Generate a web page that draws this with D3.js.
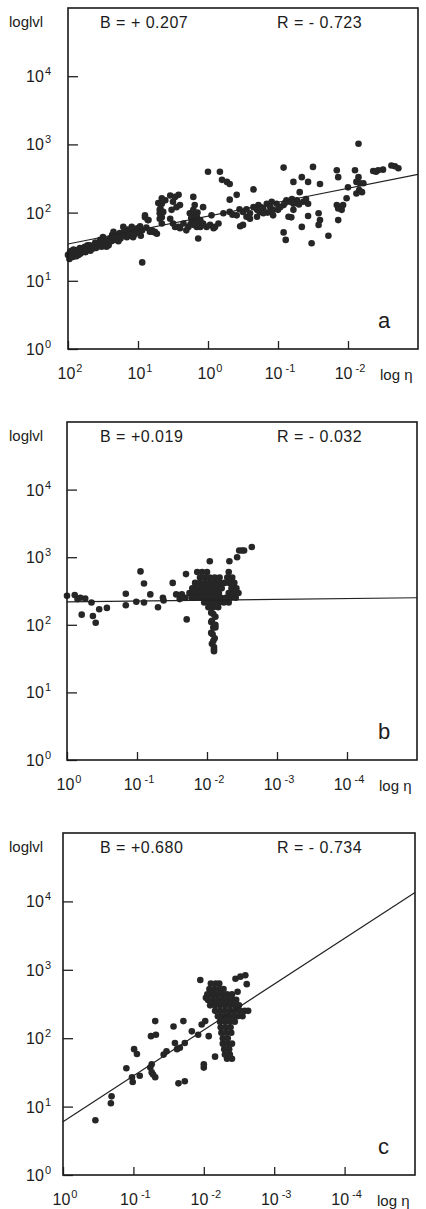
<!DOCTYPE html>
<html>
<head>
<meta charset="utf-8">
<script src="https://cdn.jsdelivr.net/npm/d3@7"></script>
<style>
  body { margin: 0; background: #fff; }
  svg { display: block; }
  text { font-family: "Liberation Sans", Arial, sans-serif; fill: #1c1c1c; }
</style>
</head>
<body>
<div id="chart"></div>
<script>
const pointsA = [
  [2.0,1.38],[1.98,1.32],[1.97,1.42],[1.95,1.44],[1.93,1.35],[1.92,1.46],[1.9,1.38],[1.88,1.36],
  [1.87,1.45],[1.85,1.38],[1.83,1.48],[1.82,1.4],[1.8,1.42],[1.78,1.48],[1.76,1.5],[1.75,1.42],
  [1.73,1.45],[1.72,1.52],[1.69,1.52],[1.68,1.44],[1.65,1.47],[1.63,1.52],[1.61,1.56],[1.6,1.48],
  [1.58,1.5],[1.56,1.55],[1.54,1.6],[1.52,1.5],[1.5,1.64],[1.48,1.6],[1.47,1.55],[1.45,1.5],
  [1.43,1.57],[1.42,1.52],[1.4,1.62],[1.38,1.58],[1.37,1.67],[1.35,1.72],[1.33,1.6],[1.32,1.67],
  [1.3,1.63],[1.28,1.58],[1.26,1.7],[1.25,1.62],[1.23,1.66],[1.21,1.79],[1.2,1.72],[1.18,1.68],
  [1.16,1.64],[1.15,1.75],[1.13,1.66],[1.12,1.72],[1.1,1.7],[1.09,1.79],[1.07,1.64],[1.05,1.68],
  [1.04,1.75],[1.02,1.72],[1.01,1.77],[0.98,1.7],[0.97,1.8],[0.96,1.66],[0.94,1.74],[0.9,1.93],
  [0.88,1.78],[0.86,1.89],[0.83,1.72],[0.8,1.74],[0.76,1.71],
  [0.71,2.14],[0.69,2.04],[0.66,1.93],[0.61,2.18],[0.94,1.27],
  [0.90,1.96],[0.85,1.89],[0.80,1.72],[0.76,1.72],[0.73,1.69],
  [0.66,2.21],[0.66,2.13],[0.68,2.06],[0.69,1.99],[0.69,1.91],[0.66,1.84],[0.63,2.18],[0.64,2.01],
  [0.54,2.25],[0.47,2.23],[0.42,2.26],[0.50,2.16],[0.45,2.08],[0.40,2.11],[0.52,2.04],[0.54,1.91],
  [0.47,1.79],[0.40,1.77],[0.31,1.74],[0.35,1.84],[0.50,1.84],[0.42,1.79],
  [0.21,2.23],[0.07,2.08],[0.14,1.62],
  [0.26,1.99],[0.21,2.04],[0.16,1.94],[0.11,1.89],[0.23,1.87],[0.28,1.79],[0.07,1.84],[0.02,1.79],
  [0.16,1.79],[0.21,1.94],[0.19,2.11],[0.11,1.79],[-0.03,1.82],[-0.08,1.77],
  [0.18,1.86],[0.24,1.92],[0.13,1.84],[0.2,1.82],[0.25,1.83],[0.09,1.82],[0.15,2.0],[0.22,2.0],
  [0.00,2.6],[-0.17,2.6],[-0.20,2.48],[-0.27,2.45],[-0.31,2.42],[-0.41,2.26],[-0.31,2.19],[-0.65,2.34],
  [-0.05,1.96],[-0.15,1.84],[-0.10,1.79],
  [-0.22,1.99],[-0.31,2.01],[-0.41,1.96],[-0.50,2.01],[-0.55,1.94],[-0.60,1.99],[-0.70,2.04],[-0.79,2.06],
  [-0.89,2.08],[-0.98,2.13],[-1.08,2.11],[-1.17,2.16],[-1.27,2.18],[-1.36,2.16],[-1.43,2.13],[-0.65,2.08],
  [-0.74,2.01],[-0.84,2.13],[-0.93,2.04],[-1.03,2.08],[-1.12,2.18],[-1.22,2.13],[-0.72,2.11],[-0.91,2.16],
  [-0.45,2.05],[-0.55,2.05],[-0.75,2.08],[-0.85,2.0],[-1.0,2.04],[-1.1,2.14],[-1.2,2.2],[-1.3,2.12],
  [-1.4,2.2],[-0.35,1.97],
  [-0.46,1.8],[-0.50,1.82],[-0.60,1.91],[-0.70,1.94],[-0.79,1.99],[-0.89,2.01],[-0.93,1.96],
  [-1.08,2.66],[-1.22,2.45],[-1.34,2.52],[-1.43,2.45],[-1.60,2.42],[-1.50,2.67],[-1.31,2.3],
  [-1.08,1.71],[-1.11,1.6],[-1.15,1.94],[-1.19,1.93],[-1.22,2.04],[-1.34,1.79],[-1.43,1.95],[-1.48,1.55],
  [-1.58,1.99],[-1.60,1.89],[-1.58,1.82],[-1.72,1.66],[-1.86,1.89],
  [-1.84,2.62],[-1.86,2.52],[-2.00,2.37],[-1.98,2.21],[-1.84,2.11],[-1.89,2.08],[-1.91,2.04],[-1.86,2.06],[-1.93,2.11],
  [-2.15,3.01],
  [-2.10,2.62],[-2.15,2.52],[-2.12,2.45],[-2.17,2.43],[-2.22,2.43],[-2.12,2.28],[-2.20,2.3],[-2.16,2.33],
  [-2.36,2.61],[-2.40,2.6],[-2.43,2.62],[-2.50,2.63],[-2.62,2.69],[-2.67,2.68],[-2.72,2.65]
];

const pointsB = [
  [0.0,2.43],[-0.11,2.44],[-0.15,2.38],[-0.19,2.40],[-0.26,2.39],[-0.21,2.15],[-0.35,2.33],[-0.37,2.13],
  [-0.41,2.03],[-0.46,2.23],[-0.57,2.25],
  [-0.84,2.46],[-0.84,2.29],[-0.99,2.34],[-1.05,2.79],[-1.10,2.61],[-1.10,2.33],[-1.19,2.45],[-1.30,2.26],
  [-1.37,2.4],[-1.38,2.36],[-1.51,2.62],[-1.56,2.45],[-1.61,2.38],[-1.64,2.45],[-1.69,2.4],[-1.70,2.75],
  [-1.71,2.08],[-2.04,2.94],[-2.32,2.94],
  [-1.86,2.78],[-1.93,2.78],[-2.0,2.78],[-2.31,2.78],
  [-1.9,2.7],[-1.97,2.7],[-2.04,2.7],[-2.11,2.7],[-2.18,2.7],[-2.29,2.7],[-2.36,2.7],
  [-1.83,2.62],[-1.9,2.62],[-1.97,2.62],[-2.04,2.62],[-2.11,2.62],[-2.18,2.62],[-2.25,2.62],[-2.32,2.62],[-2.39,2.62],
  [-1.79,2.54],[-1.86,2.54],[-1.93,2.54],[-2.0,2.54],[-2.07,2.54],[-2.14,2.54],[-2.21,2.54],[-2.35,2.54],[-2.42,2.54],
  [-1.75,2.47],[-1.82,2.47],[-1.89,2.47],[-1.96,2.47],[-2.03,2.47],[-2.1,2.47],[-2.17,2.47],[-2.31,2.47],[-2.38,2.47],[-2.45,2.47],
  [-1.78,2.4],[-1.85,2.4],[-1.92,2.4],[-1.99,2.4],[-2.06,2.4],[-2.13,2.4],[-2.2,2.4],[-2.27,2.4],[-2.34,2.4],[-2.41,2.4],
  [-1.96,2.33],[-2.03,2.33],[-2.1,2.33],[-2.17,2.33],[-2.24,2.33],[-2.31,2.33],
  [-2.02,2.26],[-2.09,2.26],[-2.16,2.26],
  [-2.06,2.18],[-2.12,2.12],[-2.06,2.04],[-2.12,1.96],[-2.06,1.88],[-2.11,1.8],[-2.07,1.72],[-2.1,1.64],
  [-2.09,2.16],[-2.07,2.06],[-2.09,1.96],[-2.08,1.86],[-2.09,1.76],[-2.10,1.67],[-2.10,1.61],[-2.12,2.0],
  [-2.43,3.0],[-2.46,3.1],[-2.50,3.1],[-2.53,3.1],[-2.64,3.15]
];

const pointsC = [
  [-0.46,0.80],[-0.69,1.15],[-0.68,1.05],
  [-0.90,1.56],[-0.98,1.43],[-0.99,1.36],[-1.01,1.84],[-1.05,1.77],[-1.09,1.45],
  [-1.24,1.57],[-1.26,1.62],[-1.28,1.47],[-1.31,1.43],[-1.26,1.5],[-1.25,2.03],[-1.32,2.05],[-1.31,2.25],
  [-1.43,1.76],[-1.47,1.81],[-1.57,2.17],[-1.59,1.93],[-1.62,1.84],[-1.66,1.86],[-1.64,1.34],[-1.71,2.25],
  [-1.73,1.37],[-1.73,1.93],
  [-1.83,2.1],[-1.92,2.05],[-1.97,2.2],[-1.95,2.85],[-2.0,1.62],[-2.0,1.57],[-2.02,2.25],[-2.07,2.03],
  [-2.03,2.59],[-2.16,1.73],
  [-2.1,2.8],[-2.17,2.8],[-2.22,2.8],
  [-2.08,2.72],[-2.15,2.72],[-2.22,2.72],[-2.28,2.72],
  [-2.05,2.64],[-2.12,2.64],[-2.19,2.64],[-2.26,2.64],[-2.33,2.64],[-2.4,2.64],
  [-2.06,2.56],[-2.13,2.56],[-2.2,2.56],[-2.27,2.56],[-2.34,2.56],[-2.41,2.56],[-2.46,2.56],
  [-2.09,2.48],[-2.16,2.48],[-2.23,2.48],[-2.3,2.48],[-2.37,2.48],[-2.44,2.48],[-2.5,2.48],
  [-2.16,2.4],[-2.23,2.4],[-2.3,2.4],[-2.37,2.4],[-2.44,2.4],[-2.51,2.4],[-2.58,2.4],[-2.63,2.4],
  [-2.2,2.32],[-2.27,2.32],[-2.34,2.32],[-2.41,2.32],[-2.48,2.32],[-2.55,2.32],
  [-2.23,2.24],[-2.3,2.24],[-2.37,2.24],[-2.44,2.24],
  [-2.24,2.16],[-2.31,2.16],[-2.38,2.16],
  [-2.25,2.08],[-2.32,2.08],[-2.39,2.08],
  [-2.27,2.0],[-2.34,2.0],
  [-2.27,1.92],[-2.34,1.92],[-2.4,1.92],
  [-2.29,1.84],[-2.36,1.84],
  [-2.3,1.76],[-2.37,1.76],
  [-2.33,1.7],[-2.4,1.7],
  [-2.45,2.87],[-2.52,2.9],[-2.59,2.92],[-2.48,2.68],[-2.61,2.79]
];

// regression lines, end points [log eta, log |v|]
const fitA = [[2, 1.54], [-3, 2.56]];
const fitB = [[0, 2.34], [-5, 2.40]];
const fitC = [[0, 0.78], [-5, 4.13]];

const xTicksA = [2, 1, 0, -1, -2];
const xTicksBC = [0, -1, -2, -3, -4];
const yTicks = [0, 1, 2, 3, 4];

const bTexts = ['B = + 0.207', 'B = +0.019', 'B = +0.680'];
const rTexts = ['R = - 0.723', 'R = - 0.032', 'R = - 0.734'];
const panelLetters = ['a', 'b', 'c'];

// layout of the three frames (pixels)
const frames = [
  {left: 68, right: 418, top: 8, bottom: 349, xDomain: [2, -3], xTicks: xTicksA, points: pointsA, fit: fitA},
  {left: 67, right: 417, top: 422, bottom: 760, xDomain: [0, -5], xTicks: xTicksBC, points: pointsB, fit: fitB},
  {left: 63, right: 415, top: 833, bottom: 1175, xDomain: [0, -5], xTicks: xTicksBC, points: pointsC, fit: fitC}
];

const svg = d3.select('#chart').append('svg')
    .attr('width', 426)
    .attr('height', 1209);

function pow10(sel, e) {
  sel.append('tspan').text('10');
  sel.append('tspan')
      .attr('dx', e < 0 ? 3 : 1)
      .attr('dy', -7)
      .attr('font-size', 11)
      .text(e < 0 ? '-' + (-e) : e);
}

function drawPanel(f, i) {
  const x = d3.scaleLinear().domain(f.xDomain).range([f.left, f.right]);
  const y = d3.scaleLinear().domain([0, 5]).range([f.bottom, f.top]);
  const g = svg.append('g');

  // points
  g.append('g').selectAll('circle')
    .data(f.points)
    .enter().append('circle')
      .attr('cx', d => x(d[0]))
      .attr('cy', d => y(d[1]))
      .attr('r', 3.3)
      .attr('fill', '#262626');

  // fit line
  g.append('path')
      .datum(f.fit)
      .attr('fill', 'none')
      .attr('stroke', '#222')
      .attr('stroke-width', 1.2)
      .attr('d', d3.line().x(d => x(d[0])).y(d => y(d[1])));

  // y ticks inside the frame
  const yAxis = g.append('g')
      .attr('transform', `translate(${f.left},0)`)
      .call(d3.axisLeft(y).tickValues(yTicks).tickSize(-10).tickFormat(''));
  yAxis.select('.domain').remove();
  yAxis.selectAll('.tick line').attr('stroke', '#222').attr('stroke-width', 1.3);

  // x ticks pointing up
  const xAxis = g.append('g')
      .attr('transform', `translate(0,${f.bottom})`)
      .call(d3.axisBottom(x).tickValues(f.xTicks).tickSize(-8).tickFormat(''));
  xAxis.select('.domain').remove();
  xAxis.selectAll('.tick line').attr('stroke', '#222').attr('stroke-width', 1.3);

  // frame
  g.append('rect')
      .attr('x', f.left).attr('y', f.top)
      .attr('width', f.right - f.left).attr('height', f.bottom - f.top)
      .attr('fill', 'none')
      .attr('stroke', '#1a1a1a')
      .attr('stroke-width', 1.6);

  // y tick labels
  yTicks.forEach(t => {
    const tx = g.append('text')
        .attr('x', 51).attr('y', y(t) + 6)
        .attr('text-anchor', 'end')
        .attr('font-size', 16);
    pow10(tx, t);
  });

  // x tick labels
  f.xTicks.forEach(t => {
    const tx = g.append('text')
        .attr('x', x(t) + 2).attr('y', f.bottom + 30)
        .attr('text-anchor', 'middle')
        .attr('font-size', 16);
    pow10(tx, t);
  });

  g.append('text')
      .attr('x', f.right - 38).attr('y', f.bottom + 31)
      .attr('font-size', 15)
      .text('log η');

  g.append('text')
      .attr('x', 9).attr('y', f.top + 19)
      .attr('font-size', 15)
      .text('loglvl');

  g.append('text')
      .attr('x', 100).attr('y', f.top + 20)
      .attr('font-size', 16)
      .attr('letter-spacing', 0.5)
      .text(bTexts[i]);

  g.append('text')
      .attr('x', 277).attr('y', f.top + 20)
      .attr('font-size', 16)
      .attr('letter-spacing', 0.5)
      .text(rTexts[i]);

  g.append('text')
      .attr('x', 378).attr('y', f.bottom - 21)
      .attr('font-size', 22)
      .text(panelLetters[i]);
}

frames.forEach(drawPanel);
</script>
</body>
</html>
